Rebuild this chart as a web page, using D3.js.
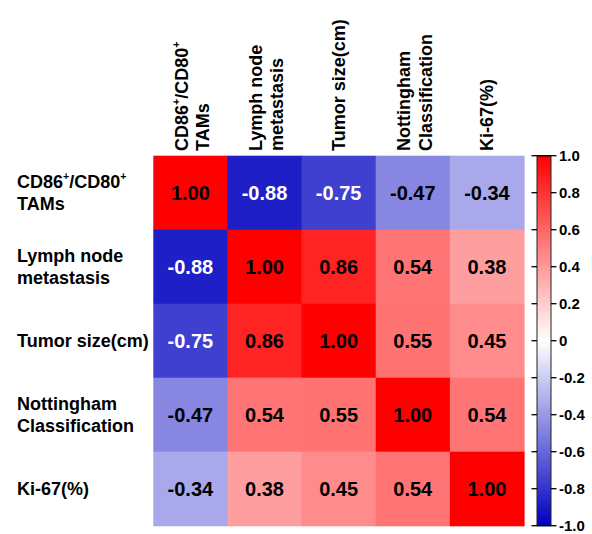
<!DOCTYPE html>
<html>
<head>
<meta charset="utf-8">
<script src="https://cdn.jsdelivr.net/npm/d3@7"></script>
<style>
  html, body { margin: 0; padding: 0; background: #fff; }
  svg { display: block; }
  text { font-family: "Liberation Sans", Arial, sans-serif; font-weight: bold; fill: #000; }
</style>
</head>
<body>
<svg id="chart" width="592" height="534"></svg>
<script>
// ---- data ----
const categories = ["CD86^+/CD80^+|TAMs", "Lymph node|metastasis", "Tumor size(cm)", "Nottingham|Classification", "Ki-67(%)"];
const row0 = [1.00, -0.88, -0.75, -0.47, -0.34];
const row1 = [-0.88, 1.00, 0.86, 0.54, 0.38];
const row2 = [-0.75, 0.86, 1.00, 0.55, 0.45];
const row3 = [-0.47, 0.54, 0.55, 1.00, 0.54];
const row4 = [-0.34, 0.38, 0.45, 0.54, 1.00];
const matrix = [row0, row1, row2, row3, row4];
const colorbarTicks = [1.0, 0.8, 0.6, 0.4, 0.2, 0, -0.2, -0.4, -0.6, -0.8, -1.0];

// ---- layout ----
const svg = d3.select("#chart");
const gx0 = 153.3, gx1 = 524, gy0 = 155.7, gy1 = 525.7;
const x = d3.scaleBand().domain(d3.range(categories.length)).range([gx0, gx1]);
const y = d3.scaleBand().domain(d3.range(categories.length)).range([gy0, gy1]);
const color = d3.scaleLinear().domain([-1, 0, 1]).range(["rgb(0,0,192)", "#ffffff", "#ff0000"]);

// cells
const cells = [];
matrix.forEach((r, i) => r.forEach((v, j) => cells.push({ i, j, v })));
const g = svg.append("g");
g.selectAll("rect").data(cells).enter().append("rect")
  .attr("x", d => x(d.j)).attr("y", d => y(d.i))
  .attr("width", x.bandwidth() + 0.6).attr("height", y.bandwidth() + 0.6)
  .attr("fill", d => color(d.v));
g.selectAll("text.val").data(cells).enter().append("text")
  .attr("class", "val")
  .attr("x", d => x(d.j) + x.bandwidth() / 2)
  .attr("y", d => y(d.i) + y.bandwidth() / 2)
  .attr("dy", "0.38em")
  .attr("text-anchor", "middle")
  .style("font-size", "20px")
  .style("fill", d => d.v < -0.6 ? "#fff" : "#000")
  .text(d => d.v.toFixed(2));

// helper to write a line with ^+ superscripts
function writeLine(textSel, line) {
  const parts = line.split("^+");
  parts.forEach((p, k) => {
    if (p.length) textSel.append("tspan").text(p);
    if (k < parts.length - 1) {
      textSel.append("tspan").attr("baseline-shift", "8px").style("font-size", "10.5px").text("+");
    }
  });
}

const fs = "18px", lh = 21.5;

// row labels
categories.forEach((c, i) => {
  const lines = c.split("|");
  const cy = y(i) + y.bandwidth() / 2;
  lines.forEach((ln, k) => {
    const by = cy + 6.5 + (k - (lines.length - 1) / 2) * lh;
    const t = svg.append("text").attr("x", 17).attr("y", by).style("font-size", fs);
    writeLine(t, ln);
  });
});

// column labels (rotated)
categories.forEach((c, j) => {
  const lines = c.split("|");
  const cx = x(j) + x.bandwidth() / 2;
  lines.forEach((ln, k) => {
    const off = 6.5 + (k - (lines.length - 1) / 2) * lh + (lines.length > 1 ? 1.5 : 0);
    const t = svg.append("text")
      .attr("transform", `translate(${cx + off},151) rotate(-90)`)
      .attr("text-anchor", "start")
      .style("font-size", fs);
    writeLine(t, ln);
  });
});

// colorbar
const bx0 = 537, bx1 = 551;
const cb = d3.scaleLinear().domain([-1, 1]).range([gy1, gy0]);
const defs = svg.append("defs");
const grad = defs.append("linearGradient").attr("id", "cbgrad")
  .attr("x1", 0).attr("y1", 1).attr("x2", 0).attr("y2", 0);
d3.range(0, 1.0001, 0.05).forEach(t => {
  grad.append("stop").attr("offset", t).attr("stop-color", color(-1 + 2 * t));
});
svg.append("rect").attr("x", bx0).attr("y", gy0).attr("width", bx1 - bx0).attr("height", gy1 - gy0)
  .attr("fill", "url(#cbgrad)").attr("stroke", "#222").attr("stroke-width", 1);
const tg = svg.append("g");
tg.selectAll("line.l").data(colorbarTicks).enter().append("line")
  .attr("x1", bx0 - 5.5).attr("x2", bx0).attr("y1", d => cb(d)).attr("y2", d => cb(d))
  .attr("stroke", "#000").attr("stroke-width", 1.3);
tg.selectAll("line.r").data(colorbarTicks).enter().append("line")
  .attr("x1", bx1).attr("x2", bx1 + 5.5).attr("y1", d => cb(d)).attr("y2", d => cb(d))
  .attr("stroke", "#000").attr("stroke-width", 1.3);
tg.selectAll("line.e").data([1, -1]).enter().append("line")
  .attr("x1", bx0).attr("x2", bx1).attr("y1", d => cb(d)).attr("y2", d => cb(d))
  .attr("stroke", "#000").attr("stroke-width", 1.3);
tg.selectAll("text").data(colorbarTicks).enter().append("text")
  .attr("x", 559).attr("y", d => cb(d)).attr("dy", "0.36em")
  .style("font-size", "15px")
  .text(d => d === 0 ? "0" : d.toFixed(1));
</script>
</body>
</html>
